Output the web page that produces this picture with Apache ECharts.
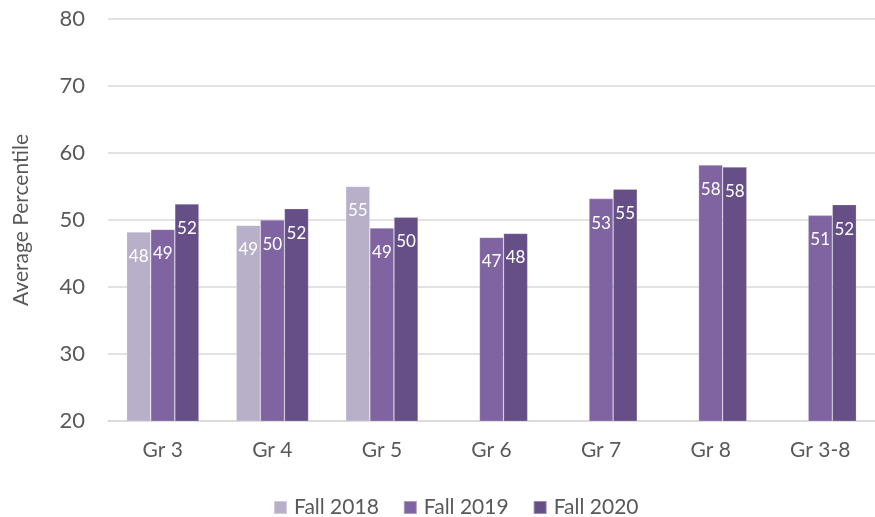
<!DOCTYPE html>
<html>
<head>
<meta charset="utf-8">
<script src="https://cdn.jsdelivr.net/npm/echarts@6/dist/echarts.min.js"></script>
<style>
html,body{margin:0;padding:0;background:#fff;}
#c{width:875px;height:517px;}
</style>
</head>
<body>
<div id="c"></div>
<script>
const categories = ['Gr 3', 'Gr 4', 'Gr 5', 'Gr 6', 'Gr 7', 'Gr 8', 'Gr 3-8'];
const fall2018 = [48.2, 49.2, 55.0, null, null, null, null];
const fall2019 = [48.6, 50.0, 48.8, 47.4, 53.2, 58.2, 50.7];
const fall2020 = [52.4, 51.7, 50.4, 48.0, 54.6, 57.9, 52.3];
const seriesNames = ['Fall 2018', 'Fall 2019', 'Fall 2020'];
const yTicks = [20, 30, 40, 50, 60, 70, 80];

const colors = ['#B8AFC9', '#8064A2', '#664F86'];
const FONT = 'Lato';
const TEXT = '#595959';

const chart = echarts.init(document.getElementById('c'));
function mkSeries(name, data, color) {
  return {
    name: name,
    type: 'bar',
    data: data,
    barGap: '0%',
    barCategoryGap: '34%',
    itemStyle: { color: color, borderColor: 'rgba(255,255,255,0.35)', borderWidth: 0.6 },
    label: {
      show: true,
      position: 'insideTop',
      distance: 16,
      color: '#ffffff',
      fontFamily: FONT,
      fontSize: 17,
      formatter: p => (p.value == null ? '' : Math.round(p.value))
    }
  };
}
chart.setOption({
  animation: false,
  textStyle: { fontFamily: FONT },
  grid: { left: 108, right: -3, top: 19, bottom: 96 },
  legend: {
    bottom: -6,
    left: 268,
    itemWidth: 13,
    itemHeight: 13,
    itemGap: 24,
    icon: 'rect',
    textStyle: { color: TEXT, fontFamily: FONT, fontSize: 21, padding: [0, 0, 0, 2] },
    data: seriesNames
  },
  xAxis: {
    type: 'category',
    data: categories,
    axisLine: { show: true, lineStyle: { color: '#D9D9D9', width: 1.5 } },
    axisTick: { show: false },
    axisLabel: { color: TEXT, fontFamily: FONT, fontSize: 21, margin: 19 }
  },
  yAxis: {
    type: 'value',
    min: yTicks[0],
    max: yTicks[yTicks.length - 1],
    interval: 10,
    name: 'Average Percentile',
    nameLocation: 'middle',
    nameGap: 76,
    nameTextStyle: { color: TEXT, fontFamily: FONT, fontSize: 21 },
    axisLine: { show: false },
    axisTick: { show: false },
    splitLine: { lineStyle: { color: '#D9D9D9', width: 1.5 } },
    axisLabel: { color: TEXT, fontFamily: FONT, fontSize: 22, margin: 23 }
  },
  series: [
    mkSeries(seriesNames[0], fall2018, colors[0]),
    mkSeries(seriesNames[1], fall2019, colors[1]),
    mkSeries(seriesNames[2], fall2020, colors[2])
  ]
});
</script>
</body>
</html>
